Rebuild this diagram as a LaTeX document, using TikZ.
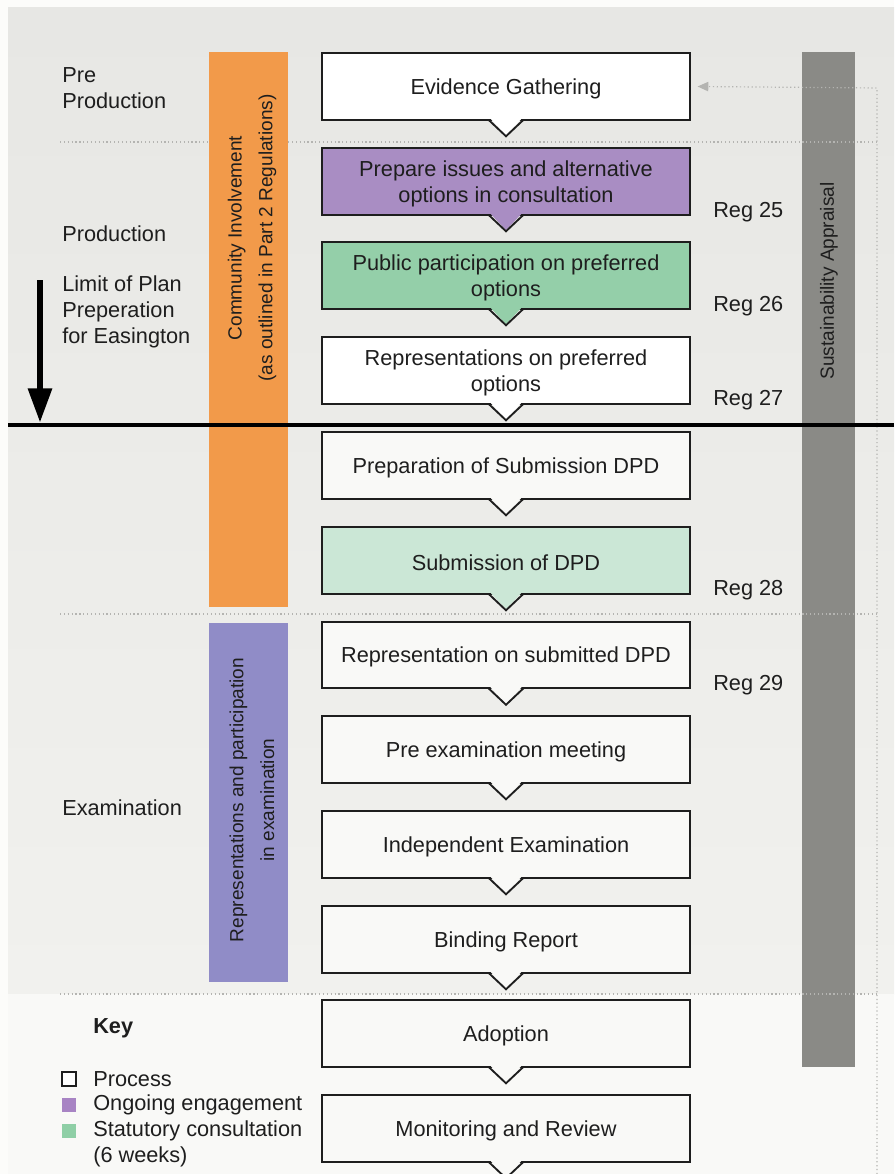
\documentclass[tikz,border=0pt]{standalone}
\usepackage{fontspec}
\setmainfont{Liberation Sans}
\usetikzlibrary{calc,arrows.meta}
\definecolor{pagebg}{HTML}{FCFCFA}
\definecolor{paneltop}{HTML}{E7E7E4}
\definecolor{panelmid}{HTML}{F1F1EE}
\definecolor{panelbot}{HTML}{F9F9F7}
\definecolor{orangebar}{HTML}{F29A4A}
\definecolor{purplebar}{HTML}{908CC7}
\definecolor{graybar}{HTML}{8A8A86}
\definecolor{boxpurple}{HTML}{A98DC3}
\definecolor{boxgreen}{HTML}{94CFA9}
\definecolor{boxlgreen}{HTML}{CBE7D6}
\definecolor{boxwhite}{HTML}{F9F9F7}
\definecolor{keypurple}{HTML}{A884C4}
\definecolor{keygreen}{HTML}{8FCFA6}
\definecolor{dotcol}{HTML}{B4B4B1}
\definecolor{edgecol}{HTML}{1E1E1E}
\definecolor{txt}{HTML}{1E1E1E}
\newcommand{\chevron}[2]{%
  \fill[#2] ($(#1.south)+(-16,-2.6)$) -- ($(#1.south)+(0,14.5)$) -- ($(#1.south)+(16,-2.6)$) -- cycle;
  \draw[boxedge] ($(#1.south)+(-17.5,-1)$) -- ($(#1.south)+(0,15.5)$) -- ($(#1.south)+(17.5,-1)$);}
\newcommand{\procstep}[4]{%
  \node[procbox, fill=#3] (#1) at (506,#2) {};
  \node[boxtext] (#1t) at ($(#1.center)+(0,2.2)$) {#4};}
\tikzset{
  boxedge/.style={draw=edgecol, line width=1.4pt, line join=miter},
  procbox/.style={draw=edgecol, line width=1.4pt, minimum width=276pt, minimum height=50pt,
    inner sep=0pt},
  boxtext/.style={inner sep=0pt, align=center, text=txt, font=\fontsize{16.3}{19.5}\selectfont},
  sidelabel/.style={anchor=west, align=left, inner sep=0pt, text=txt, font=\fontsize{16.3}{19.5}\selectfont},
  reglabel/.style={anchor=west, inner sep=0pt, text=txt, font=\fontsize{16.3}{19.5}\selectfont},
  bartext/.style={rotate=90, align=center, inner sep=0pt, text=txt, font=\fontsize{14.3}{23}\selectfont},
  dotline/.style={draw=dotcol, dotted, line width=0.9pt},
  keysq/.style={minimum size=10.5pt, inner sep=0pt},
}
\begin{document}
\begin{tikzpicture}[x=0.75pt,y=-0.75pt]
\useasboundingbox (0,0) rectangle (894,1174);
% backgrounds
\fill[pagebg] (0,0) rectangle (894,1174);
\shade[top color=paneltop, bottom color=panelmid] (8,7) rectangle (894,994);
\fill[panelbot] (8,994) rectangle (894,1174);

% sustainability appraisal bar
\fill[graybar] (802,52) rectangle (855,1067);
\node[bartext] (sa) at (829,281) {Sustainability Appraisal};

% dotted section lines
\coordinate (d1a) at (60,142); \coordinate (d1b) at (877,142);
\coordinate (d2a) at (60,614); \coordinate (d2b) at (877,614);
\coordinate (d3a) at (60,994); \coordinate (d3b) at (877,994);
\draw[dotline] (d1a) -- (d1b);
\draw[dotline] (d2a) -- (d2b);
\draw[dotline] (d3a) -- (d3b);

% orange and purple bars
\fill[orangebar] (209,52) rectangle (288,607);
\node[bartext] (ci) at (252,238) {Community Involvement\\(as outlined in Part 2 Regulations)};
\fill[purplebar] (209,623) rectangle (288,982);
\node[bartext] (rp) at (252,800) {Representations and participation\\in examination};

% process boxes
\procstep{b1}{86.5}{white}{Evidence Gathering}
\procstep{b2}{181.5}{boxpurple}{Prepare issues and alternative\\options in consultation}
\procstep{b3}{275.5}{boxgreen}{Public participation on preferred\\options}
\procstep{b4}{370.5}{white}{Representations on preferred\\options}
\procstep{b5}{465.5}{boxwhite}{Preparation of Submission DPD}
\procstep{b6}{560.5}{boxlgreen}{Submission of DPD}
\procstep{b7}{655}{boxwhite}{Representation on submitted DPD}
\procstep{b8}{749.5}{boxwhite}{Pre examination meeting}
\procstep{b9}{844.5}{boxwhite}{Independent Examination}
\procstep{b10}{939.5}{boxwhite}{Binding Report}
\procstep{b11}{1033.5}{boxwhite}{Adoption}
\procstep{b12}{1128.5}{boxwhite}{Monitoring and Review}
\chevron{b1}{white}
\chevron{b2}{boxpurple}
\chevron{b3}{boxgreen}
\chevron{b4}{white}
\chevron{b5}{boxwhite}
\chevron{b6}{boxlgreen}
\chevron{b7}{boxwhite}
\chevron{b8}{boxwhite}
\chevron{b9}{boxwhite}
\chevron{b10}{boxwhite}
\chevron{b11}{boxwhite}
\chevron{b12}{boxwhite}

% feedback dotted line
\coordinate (fbtop) at (877,88);
\coordinate (fbbot) at (877,1174);
\draw[dotline, -{Triangle[width=7pt,length=8pt,fill=dotcol]}] (fbbot) -- (fbtop) -- ([xshift=5pt]b1.east);

% reg labels
\node[reglabel] (r25) at (713,212) {Reg 25};
\node[reglabel] (r26) at (713,306) {Reg 26};
\node[reglabel] (r27) at (713,400) {Reg 27};
\node[reglabel] (r28) at (713,590) {Reg 28};
\node[reglabel] (r29) at (713,685) {Reg 29};

% side labels
\node[sidelabel] (pre) at (62,88) {Pre\\Production};
\node[sidelabel] (prod) at (62,234) {Production};
\node[sidelabel] (lim) at (62,312) {Limit of Plan\\Preperation\\for Easington};
\node[sidelabel] (exam) at (62,808) {Examination};

% limit line and arrow
\coordinate (limL) at (8,425); \coordinate (limR) at (894,425);
\draw[black, line width=2.3pt] (limL) -- (limR);
\coordinate (arrtop) at (40,280); \coordinate (arrbot) at (40,423);
\draw[black, line width=5.2pt, -{Triangle[width=17pt,length=26pt]}] (arrtop) -- (arrbot);

% key
\node[sidelabel, font=\fontsize{16.3}{19.5}\selectfont\bfseries] (key) at (93,1028) {Key};
\node[keysq, draw=edgecol, line width=1.1pt, fill=white] (k1) at (69,1079) {};
\node[keysq, fill=keypurple] (k2) at (69,1105) {};
\node[keysq, fill=keygreen] (k3) at (69,1131) {};
\node[sidelabel] (k1t) at (93,1079) {Process};
\node[sidelabel] (k2t) at (93,1105) {Ongoing engagement};
\node[sidelabel] (k3t) at (93,1131) {Statutory consultation};
\node[sidelabel] (k4t) at (93,1157) {(6 weeks)};
\end{tikzpicture}
\end{document}
